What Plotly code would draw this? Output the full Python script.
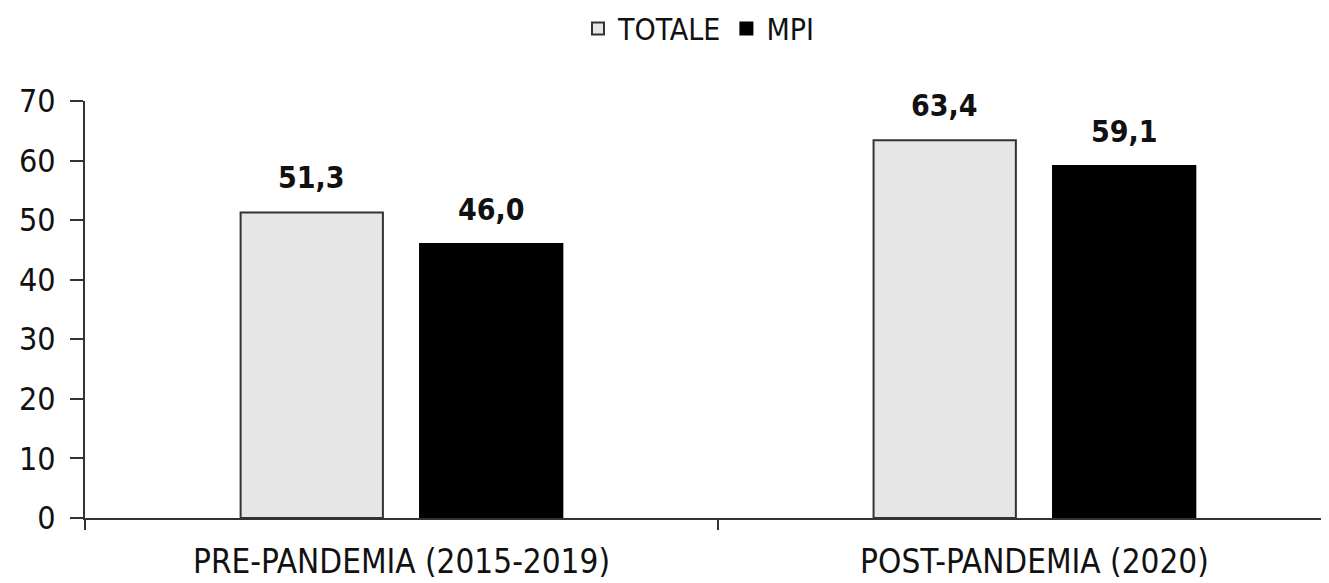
import plotly.graph_objects as go

CATEGORIES = ["PRE-PANDEMIA (2015-2019)", "POST-PANDEMIA (2020)"]
TOTALE = [51.3, 63.4]
MPI = [46.0, 59.1]
Y_TICKS = [0, 10, 20, 30, 40, 50, 60, 70]

FONT = "DejaVu Sans Condensed, Liberation Sans Narrow, Arial Narrow, sans-serif"
AXIS = "#333333"
BARGAP = 0.433
GROUPGAP = 0.207
CAT_PX = 633  # pixel width of one category slot

fig = go.Figure()
fig.add_trace(go.Bar(
    x=CATEGORIES, y=TOTALE, name="TOTALE",
    marker=dict(color="#e6e6e6", line=dict(color="#333333", width=2)),
))
fig.add_trace(go.Bar(
    x=CATEGORIES, y=MPI, name="MPI",
    marker=dict(color="#000000", line=dict(color="#000000", width=2)),
))

# value labels above each bar, shifted to the bar's slot in the group
slot = CAT_PX * (1 - BARGAP) / 2
for shift, values in ((-slot / 2, TOTALE), (slot / 2, MPI)):
    for cat, v in zip(CATEGORIES, values):
        fig.add_annotation(
            x=cat, y=v, text="<b>" + f"{v:.1f}".replace(".", ",") + "</b>",
            showarrow=False, xshift=shift, yshift=15, yanchor="bottom",
            font=dict(size=30, color="#111111", family=FONT),
        )

fig.update_layout(
    width=1329, height=583,
    paper_bgcolor="#ffffff", plot_bgcolor="#ffffff",
    margin=dict(l=77, r=0, t=93, b=73),
    separators=",.",
    font=dict(family=FONT, size=31, color="#111111"),
    barmode="group", bargap=BARGAP, bargroupgap=GROUPGAP,
    showlegend=True,
    legend=dict(
        orientation="h", x=0.49, xanchor="center",
        yref="container", y=0.965, yanchor="middle",
        font=dict(size=30, color="#111111"),
        itemwidth=30, tracegroupgap=0,
    ),
    xaxis=dict(
        type="category", range=[-0.5, 1.478], automargin=False,
        showline=True, linecolor=AXIS, linewidth=2,
        ticks="outside", tickson="boundaries", ticklen=10, tickwidth=2, tickcolor=AXIS,
        showgrid=False, zeroline=False, ticklabelstandoff=13,
        tickfont=dict(size=33),
    ),
    yaxis=dict(
        range=[0, 70], tickvals=Y_TICKS, automargin=False,
        showline=True, linecolor=AXIS, linewidth=2,
        ticks="outside", ticklen=13, tickwidth=2, tickcolor=AXIS,
        showgrid=False, zeroline=False, ticklabelstandoff=8,
        tickfont=dict(size=32),
    ),
)

fig.write_html("out.html")
